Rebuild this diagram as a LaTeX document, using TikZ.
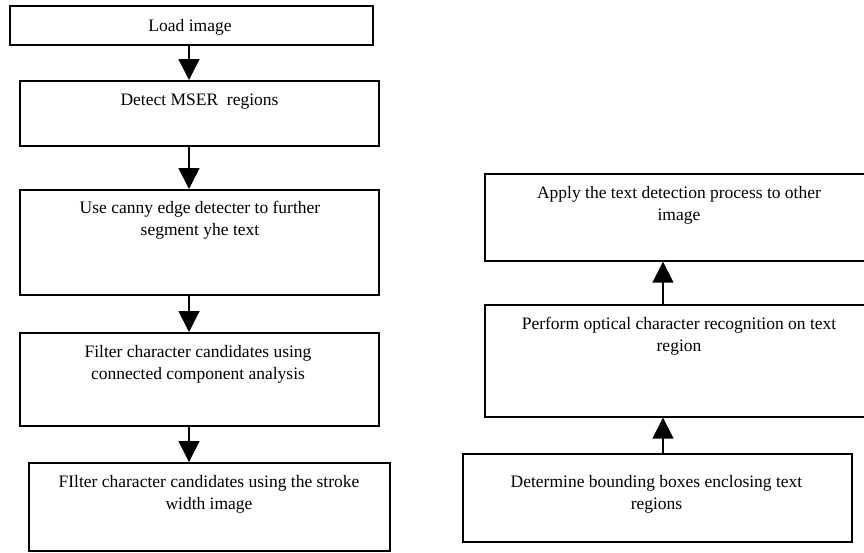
\documentclass[tikz,border=0pt]{standalone}
\usepackage{fontspec}
\setmainfont{Liberation Serif}
\usetikzlibrary{arrows.meta}
\tikzset{
  box/.style={draw=black, line width=1.7pt, rectangle, inner sep=0pt, anchor=north west},
  txt/.style={font=\fontsize{17.5}{22}\selectfont, align=center, inner sep=0pt},
  arr/.style={line width=1.6pt, -{Triangle[width=21pt,length=21pt]}}
}
\begin{document}
\begin{tikzpicture}[x=1pt,y=-1pt]
\clip (0,0) rectangle (864,552);
\fill[white] (0,0) rectangle (864,552);
% left column
\node[box, minimum width=363pt, minimum height=39pt] (b1) at (9,5) {};
\node[box, minimum width=359pt, minimum height=65pt] (b2) at (19,80) {};
\node[box, minimum width=359pt, minimum height=105pt] (b3) at (19,189) {};
\node[box, minimum width=359pt, minimum height=93pt] (b4) at (19,332) {};
\node[box, minimum width=361pt, minimum height=88pt] (b5) at (28,462) {};
% right column
\node[box, minimum width=400pt, minimum height=87pt] (bA) at (484,173) {};
\node[box, minimum width=400pt, minimum height=112pt] (bB) at (484,304) {};
\node[box, minimum width=389pt, minimum height=88pt] (bC) at (462,453) {};
% texts
\node[txt] (t1) at (190,27) {Load image};
\node[txt] (t2) at (199.5,102) {Detect MSER\ \ regions};
\node[txt] (t3) at (200,220) {Use canny edge detecter to further\\segment yhe text};
\node[txt] (t4) at (198,364.5) {Filter character candidates using\\connected component analysis};
\node[txt] (t5) at (209,494) {FIlter character candidates using the stroke\\width image};
\node[txt] (tA) at (679,205.5) {Apply the text detection process to other\\image};
\node[txt] (tB) at (679,336) {Perform optical character recognition on text\\region};
\node[txt] (tC) at (656.5,494) {Determine bounding boxes enclosing text\\regions};
% connectors
\coordinate (ax) at (189,0);
\coordinate (bx) at (663,0);
\draw[arr] (b1.south -| ax) -- (b2.north -| ax);
\draw[arr] (b2.south -| ax) -- (b3.north -| ax);
\draw[arr] (b3.south -| ax) -- (b4.north -| ax);
\draw[arr] (b4.south -| ax) -- (b5.north -| ax);
\draw[arr] (bC.north -| bx) -- (bB.south -| bx);
\draw[arr] (bB.north -| bx) -- (bA.south -| bx);
\end{tikzpicture}
\end{document}
